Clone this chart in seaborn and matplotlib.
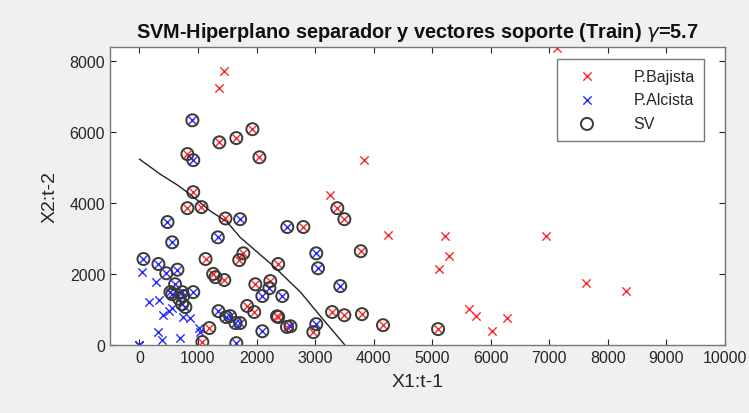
import numpy as np
import pandas as pd
import matplotlib.pyplot as plt
import seaborn as sns

# P.Bajista points that are not support vectors
baj_x = [1365, 1450, 7130, 3840, 3260, 4250, 5220, 5290, 5120, 6940, 7630, 8310, 5630, 5750, 6020, 6280]
baj_y = [7220, 7700, 8350, 5200, 4220, 3090, 3060, 2500, 2140, 3060, 1740, 1520, 1010, 820, 400, 760]

# P.Bajista support vectors
baj_sv_x = [920, 820, 1365, 1655, 1930, 2050, 820, 1060, 3380, 3500, 1470, 2800, 3780, 3290, 3500, 3800,
            2970, 1130, 1260, 1300, 1450, 1775, 1705, 2370, 1980, 2235, 1840, 1960, 2350, 2370, 2520,
            1195, 1075, 4160, 5100]
baj_sv_y = [4300, 5370, 5700, 5820, 6070, 5280, 3850, 3880, 3850, 3540, 3560, 3320, 2640, 930, 840, 870,
            365, 2420, 2000, 1910, 1830, 2580, 2390, 2280, 1710, 1800, 1100, 930, 810, 790, 510,
            480, 85, 560, 450]

# P.Alcista points that are not support vectors
alc_x = [0, 0, 0, 50, 290, 170, 340, 410, 510, 325, 390, 700, 750, 870, 1010, 1040, 560]
alc_y = [0, 0, 0, 2050, 1770, 1210, 1260, 840, 960, 365, 140, 200, 790, 760, 480, 365, 1050]

# P.Alcista support vectors
alc_sv_x = [905, 920, 1720, 2525, 480, 560, 1340, 3020, 3050, 3430, 3020, 70, 325, 460, 650, 610,
            530, 560, 730, 750, 920, 730, 785, 680, 2220, 2100, 2440, 2580, 2100, 1350, 1480, 1550,
            1640, 1720, 1655]
alc_sv_y = [6320, 5200, 3540, 3320, 3460, 2890, 3030, 2580, 2160, 1660, 590, 2420, 2280, 2020, 2120, 1710,
            1490, 1430, 1490, 1380, 1490, 1150, 1070, 1300, 1600, 1380, 1380, 530, 390, 955, 790, 815,
            620, 620, 55]

# separating hyperplane (decision contour)
hyp_x = [0, 360, 650, 905, 1210, 1500, 1720, 2290, 2750, 3090, 3510]
hyp_y = [5230, 4800, 4500, 4190, 3770, 3460, 3030, 2220, 1490, 815, 0]

baj = pd.DataFrame({'x': baj_x + baj_sv_x, 'y': baj_y + baj_sv_y})
alc = pd.DataFrame({'x': alc_x + alc_sv_x, 'y': alc_y + alc_sv_y})
sv = pd.DataFrame({'x': baj_sv_x + alc_sv_x, 'y': baj_sv_y + alc_sv_y})
hyp = pd.DataFrame({'x': hyp_x, 'y': hyp_y})

sns.set_style('ticks')
plt.rcParams['font.family'] = ['Liberation Sans', 'DejaVu Sans']

fig = plt.figure(figsize=(7.49, 4.14), dpi=100, facecolor='#f0f0f0')
ax = fig.add_axes([0.147, 0.164, 0.821, 0.720])
ax.set_facecolor('white')

sns.scatterplot(data=baj, x='x', y='y', ax=ax, marker='x', color='#ff2828', s=36, linewidth=1.0, label='P.Bajista')
sns.scatterplot(data=alc, x='x', y='y', ax=ax, marker='x', color='#2828ff', s=36, linewidth=1.0, label='P.Alcista')
sns.lineplot(data=hyp, x='x', y='y', ax=ax, color='#222222', linewidth=1.0, sort=False)
sns.scatterplot(data=sv, x='x', y='y', ax=ax, marker='o', s=75, facecolors='none', edgecolors='#3a3a3a',
                linewidth=1.4, label='SV')

ax.set_xlim(-500, 10000)
ax.set_ylim(0, 8380)
ax.set_xticks(np.arange(0, 10001, 1000))
ax.set_yticks(np.arange(0, 8001, 2000))
ax.tick_params(direction='in', length=4, top=True, right=True, labelsize=11.5, colors='#262626')
for sp in ax.spines.values():
    sp.set_color('#777777')
    sp.set_linewidth(1.0)

ax.set_xlabel('X1:t-1', fontsize=14, color='#262626', labelpad=6)
ax.set_ylabel('X2:t-2', fontsize=14, color='#262626', labelpad=8)
ax.set_title(r'SVM-Hiperplano separador y vectores soporte (Train) $\gamma$=5.7',
             fontsize=14.3, fontweight='bold', color='#111111', pad=7)

leg = ax.legend(loc='upper right', bbox_to_anchor=(0.966, 0.96), borderaxespad=0, fontsize=11.5,
                fancybox=False, edgecolor='#777777', framealpha=1, borderpad=0.6, handletextpad=1.6,
                labelspacing=0.55, handlelength=2.6)

fig.savefig('out.png', dpi=100, facecolor=fig.get_facecolor())
